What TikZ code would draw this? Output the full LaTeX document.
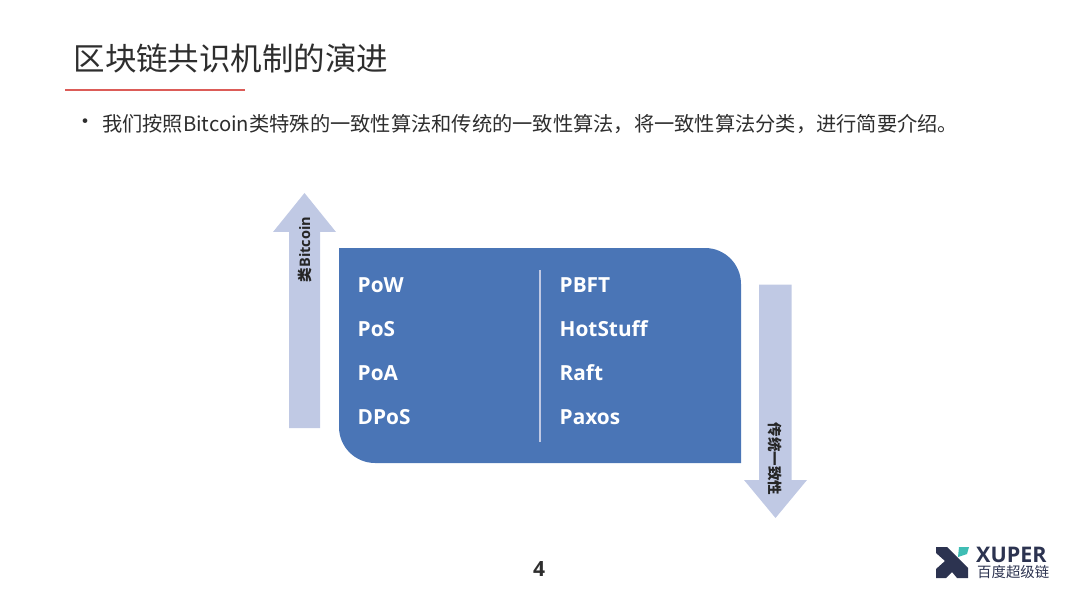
\documentclass[tikz,border=0pt]{standalone}
\usepackage{fontspec}
\usepackage{xcolor}
\usetikzlibrary{positioning,matrix}
\setmainfont{Noto Sans CJK SC}
\newfontfamily\labelfont{Open Sans}
\newfontfamily\logofont{Open Sans}
\definecolor{panelblue}{HTML}{4A75B6}
\definecolor{arrowblue}{HTML}{C0C9E4}
\definecolor{titlered}{HTML}{DC5C58}
\definecolor{logonavy}{HTML}{2C3350}
\definecolor{logoteal}{HTML}{3FBDB4}
\tikzset{
	pagetext/.style={inner sep=0pt, outer sep=0pt, text=black!82},
	arrowtext/.style={inner sep=0pt, text=black!85, font=\fontsize{14.5}{15}\selectfont\bfseries},
	arrowshape/.style={fill=arrowblue, draw=none},
}
\begin{document}
\begin{tikzpicture}[x=1pt,y=-1pt]
	\useasboundingbox (0,0) rectangle (1080,607);
	% title
	\node (title) [pagetext, anchor=west] at (73.5,58.5) {\fontsize{31.5}{34}\selectfont 区块链共识机制的演进};
	\coordinate (ruleL) at (65,90);
	\coordinate (ruleR) at (245,90);
	\draw[titlered, line width=1.5pt] (ruleL) -- (ruleR);
	\node (bullet) [pagetext, anchor=center] at (85,124) {\fontsize{22}{24}\selectfont •};
	\node (intro) [pagetext, anchor=west] at (102,124) {\fontsize{20.25}{24}\selectfont 我们按照Bitcoin类特殊的一致性算法和传统的一致性算法，将一致性算法分类，进行简要介绍。};
	% panel
	\fill[panelblue] (339,248) -- (705,248) arc[start angle=-90, end angle=0, radius=36pt, y radius=-36pt]
		-- (741,463) -- (375,463) arc[start angle=90, end angle=180, radius=36pt, y radius=-36pt] -- cycle;
	\coordinate (splitT) at (540,270);
	\coordinate (splitB) at (540,442);
	\draw[arrowblue, line width=1.2pt] (splitT) -- (splitB);
	\matrix (M) [matrix of nodes,%
		anchor=north west,%
		inner sep=0pt,%
		column sep=0pt,%
		row sep=0pt,%
		nodes={text=white, inner sep=0pt, outer sep=0pt,%
			minimum height=43.7pt, text width=202pt, align=left,%
			font=\labelfont\fontsize{20.8}{24}\selectfont\bfseries}]%
		at (357.5,263)
	{
		PoW  & PBFT \\
		PoS  & HotStuff \\
		PoA  & Raft \\
		DPoS & Paxos \\
	};
	% arrows
	\fill[arrowshape] (304.5,193) -- (336,232) -- (320,232) -- (320,428) -- (289,428) -- (289,232) -- (273,232) -- cycle;
	\node (bitcoin) [arrowtext, rotate=90] at (304.5,249.5) {类{\labelfont Bitcoin}};
	\fill[arrowshape] (775.5,518) -- (807,480) -- (791.5,480) -- (791.5,284.5) -- (759,284.5) -- (759,480) -- (744,480) -- cycle;
	\node (classic) [arrowtext, rotate=-90] at (775.5,459) {传统一致性};
	% page number and logo
	\node (pagenum) [pagetext, anchor=center] at (539,569) {\labelfont\fontsize{21}{24}\selectfont\bfseries 4};
	\fill[logonavy] (936,547) -- (947,547) -- (968,568) -- (968,578) -- (957,578) -- (952,572) -- (946,578) -- (936,578) -- (936,569) -- (945,561) -- (936,553) -- cycle;
	\fill[logoteal] (959,547) -- (969,547) -- (967,554) -- (958,557) -- cycle;
	\node (xuper) [inner sep=0pt, text=logonavy, anchor=base west, text height=15pt, text depth=0pt] at (976,562.5) {\logofont\fontsize{21.5}{22}\selectfont\bfseries XUPER};
	\node (baidu) [inner sep=0pt, text=logonavy, anchor=base west, text height=11pt, text depth=1pt] at (977,577.5) {\fontsize{14.4}{15}\selectfont 百度超级链};
\end{tikzpicture}
\end{document}
